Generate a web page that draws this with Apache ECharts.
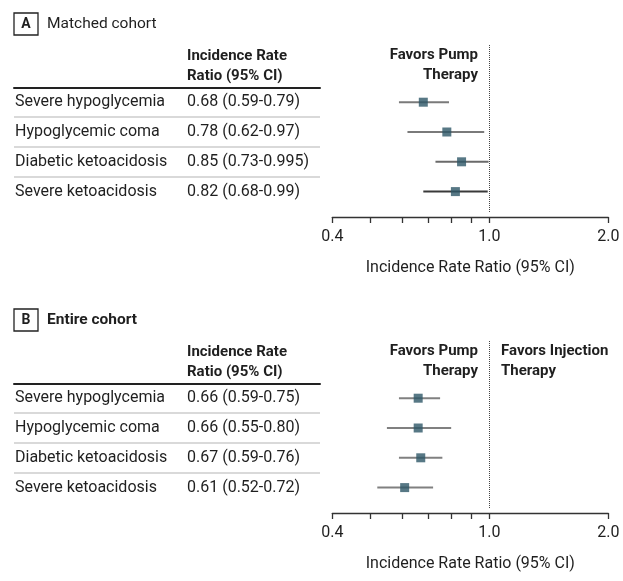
<!DOCTYPE html>
<html><head><meta charset="utf-8">
<script src="https://cdn.jsdelivr.net/npm/echarts@6/dist/echarts.min.js"></script>
<style>html,body{margin:0;padding:0;background:#fff}#c{width:623px;height:581px}</style>
</head><body><div id="c"></div>
<script>
// ---- data ----
const outcomes = ['Severe hypoglycemia', 'Hypoglycemic coma', 'Diabetic ketoacidosis', 'Severe ketoacidosis'];
const matchedEst = [0.68, 0.78, 0.85, 0.82];
const matchedLo  = [0.59, 0.62, 0.73, 0.68];
const matchedHi  = [0.79, 0.97, 0.995, 0.99];
const entireEst  = [0.66, 0.66, 0.67, 0.61];
const entireLo   = [0.59, 0.55, 0.59, 0.52];
const entireHi   = [0.75, 0.80, 0.76, 0.72];
const tickValues  = [0.4, 0.5, 0.6, 0.7, 0.8, 0.9, 1.0, 2.0];
const labelValues = [0.4, 1.0, 2.0];
const axisName = 'Incidence Rate Ratio (95% CI)';
const colHeader = 'Incidence Rate\nRatio (95% CI)';

// ---- styling ----
const FONT = 'Roboto';
const TXT = '#1f1f1f';
const MARK = '#2d5667';

function fmt(v) { const s = String(v); return s.length > 4 ? s : v.toFixed(2); }

const panels = [
  { letter: 'A', title: 'Matched cohort', titleWeight: 'normal', est: matchedEst, lo: matchedLo, hi: matchedHi,
    ciColors: ['#7a7a7a', '#7a7a7a', '#6a6a6a', '#3a3a3a'], injection: false, dy: 0 },
  { letter: 'B', title: 'Entire cohort', titleWeight: 'bold', est: entireEst, lo: entireLo, hi: entireHi,
    ciColors: ['#808080', '#808080', '#808080', '#808080'], injection: true, dy: 296 }
];

const ROW = 29.8, TABLE_TOP = 87.3, PLOT_TOP = 45, PLOT_BOTTOM = 213;
const yMin = -((TABLE_TOP + ROW / 2) - PLOT_TOP) / ROW;
const yMax = 3 + (PLOT_BOTTOM - (TABLE_TOP + ROW * 3.5)) / ROW;

const grid = [], xAxis = [], yAxis = [], series = [], graphic = [];

panels.forEach((p, i) => {
  const dy = p.dy;
  const irrText = p.est.map((e, k) => `${fmt(e)} (${fmt(p.lo[k])}-${fmt(p.hi[k])})`);
  const tg = grid.length;
  grid.push({ left: 14, top: TABLE_TOP + dy, width: 306, height: ROW * 4 });
  xAxis.push({ gridIndex: tg, type: 'value', position: 'top', min: 0, max: 1,
    axisLine: { show: true, onZero: false, lineStyle: { color: '#222', width: 2 } },
    axisTick: { show: false }, axisLabel: { show: false }, splitLine: { show: false } });
  yAxis.push({ gridIndex: tg, type: 'category', inverse: true, data: outcomes,
    axisLine: { show: false }, axisTick: { show: false },
    splitLine: { show: true, showMinLine: false, showMaxLine: false, lineStyle: { color: '#cccccc', width: 1.5 } },
    axisLabel: { align: 'left', margin: -1,
      formatter: (v, idx) => `{n|${v}}{v|${irrText[idx]}}`,
      rich: { n: { width: 172, fontSize: 16, fontFamily: FONT, color: TXT },
              v: { fontSize: 16, fontFamily: FONT, color: TXT } } } });

  const pg = grid.length;
  grid.push({ left: 332.3, right: 14.7, top: PLOT_TOP + dy, height: PLOT_BOTTOM - PLOT_TOP });
  xAxis.push({ gridIndex: pg, type: 'log', logBase: 10, min: 0.4, max: 2, offset: 4, position: 'bottom',
    axisLine: { show: true, onZero: false, lineStyle: { color: '#333', width: 1.3 } },
    axisTick: { show: true, customValues: tickValues, length: 6, lineStyle: { color: '#333', width: 1.3 } },
    axisLabel: { customValues: labelValues, formatter: v => Number(v).toFixed(1), fontSize: 16, fontFamily: FONT, color: TXT, margin: 12 },
    splitLine: { show: false }, minorTick: { show: false },
    name: axisName, nameLocation: 'middle', nameGap: 43,
    nameTextStyle: { fontSize: 16, fontFamily: FONT, color: TXT } });
  yAxis.push({ gridIndex: pg, type: 'value', inverse: true, min: yMin, max: yMax, show: false });

  series.push({ type: 'custom', xAxisIndex: pg, yAxisIndex: pg, silent: true,
    data: p.lo.map((l, k) => [l, p.hi[k], k]),
    encode: { x: [0, 1], y: 2 },
    renderItem: (params, api) => {
      const y = api.value(2);
      const a = api.coord([api.value(0), y]);
      const b = api.coord([api.value(1), y]);
      return { type: 'line', shape: { x1: a[0], y1: a[1], x2: b[0], y2: b[1] },
        style: { stroke: p.ciColors[params.dataIndex], lineWidth: 2 } };
    } });
  series.push({ type: 'scatter', xAxisIndex: pg, yAxisIndex: pg, silent: true,
    data: p.est.map((e, k) => [e, k]), symbol: 'rect', symbolSize: 9, z: 5,
    itemStyle: { color: MARK },
    markLine: { silent: true, symbol: 'none', label: { show: false },
      lineStyle: { type: 'dotted', color: '#444', width: 1 }, data: [{ xAxis: 1 }] } });

  // panel label
  graphic.push({ type: 'rect', shape: { x: 14, y: 13 + dy, width: 24, height: 22 },
    style: { fill: 'none', stroke: '#222', lineWidth: 1.3 } });
  graphic.push({ type: 'text', x: 26, y: 24 + dy,
    style: { text: p.letter, fontSize: 14, fontWeight: 'bold', fontFamily: FONT, fill: TXT, textAlign: 'center', textVerticalAlign: 'middle' } });
  graphic.push({ type: 'text', x: 47, y: 24 + dy,
    style: { text: p.title, fontSize: 15.5, fontWeight: p.titleWeight, fontFamily: FONT, fill: TXT, textAlign: 'left', textVerticalAlign: 'middle' } });
  graphic.push({ type: 'text', x: 187, y: 46 + dy,
    style: { text: colHeader, fontSize: 15, fontWeight: 'bold', fontFamily: FONT, fill: TXT, lineHeight: 20, textAlign: 'left', textVerticalAlign: 'top' } });
  graphic.push({ type: 'text', x: 478, y: 45 + dy,
    style: { text: 'Favors Pump\nTherapy', fontSize: 15, fontWeight: 'bold', fontFamily: FONT, fill: TXT, lineHeight: 20, textAlign: 'right', textVerticalAlign: 'top' } });
  if (p.injection) {
    graphic.push({ type: 'text', x: 501, y: 45 + dy,
      style: { text: 'Favors Injection\nTherapy', fontSize: 15, fontWeight: 'bold', fontFamily: FONT, fill: TXT, lineHeight: 20, textAlign: 'left', textVerticalAlign: 'top' } });
  }
});

const chart = echarts.init(document.getElementById('c'), null, { renderer: 'canvas' });
chart.setOption({ animation: false, backgroundColor: '#fff', grid, xAxis, yAxis, series, graphic });
</script>
</body></html>
